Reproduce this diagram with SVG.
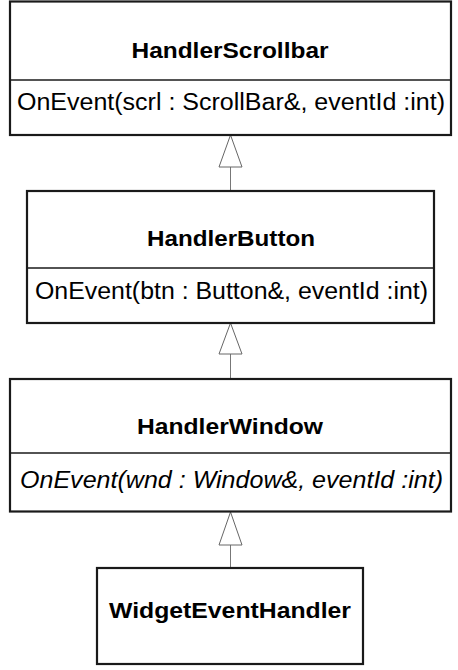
<svg xmlns="http://www.w3.org/2000/svg" width="458" height="670" viewBox="0 0 458 670">
  <defs>
    <style>
      .box { fill: #ffffff; stroke: #1a1a1a; stroke-width: 2.2; }
      .sep { stroke: #1a1a1a; stroke-width: 1.6; }
      .title { font-family: "Liberation Sans", Arial, sans-serif; font-weight: bold; font-size: 22px; fill: #000; text-anchor: middle; }
      .op { font-family: "Liberation Sans", Arial, sans-serif; font-size: 23.5px; fill: #000; }
      .abstract { font-style: italic; }
      .link { stroke: #777; stroke-width: 1; fill: none; }
      .head { stroke: #666; stroke-width: 1; fill: #fff; }
    </style>
  </defs>
  <rect width="458" height="670" fill="#ffffff"/>

  <!-- generalization connectors -->
  <g id="connectors">
    <line class="link" x1="230.5" y1="167" x2="230.5" y2="191"/>
    <polygon class="head" points="230.5,135 219,167 242,167"/>
    <line class="link" x1="230.5" y1="354" x2="230.5" y2="379"/>
    <polygon class="head" points="230.5,323 219,354 242,354"/>
    <line class="link" x1="230.5" y1="545" x2="230.5" y2="568"/>
    <polygon class="head" points="230.5,512 219,545 242,545"/>
  </g>

  <g id="HandlerScrollbar">
    <rect class="box" x="10" y="1.5" width="441" height="133.5"/>
    <line class="sep" x1="10" y1="80" x2="451" y2="80"/>
    <text class="title" x="230" y="58" textLength="197" lengthAdjust="spacingAndGlyphs">HandlerScrollbar</text>
    <text class="op" x="17" y="110" textLength="428" lengthAdjust="spacingAndGlyphs">OnEvent(scrl : ScrollBar&amp;, eventId :int)</text>
  </g>

  <g id="HandlerButton">
    <rect class="box" x="27" y="191" width="407" height="132"/>
    <line class="sep" x1="27" y1="268" x2="434" y2="268"/>
    <text class="title" x="231" y="246" textLength="168" lengthAdjust="spacingAndGlyphs">HandlerButton</text>
    <text class="op" x="35" y="299" textLength="393" lengthAdjust="spacingAndGlyphs">OnEvent(btn : Button&amp;, eventId :int)</text>
  </g>

  <g id="HandlerWindow">
    <rect class="box" x="10" y="379" width="441" height="132.5"/>
    <line class="sep" x1="10" y1="453" x2="451" y2="453"/>
    <text class="title" x="230" y="434" textLength="186" lengthAdjust="spacingAndGlyphs">HandlerWindow</text>
    <text class="op abstract" x="20" y="488" textLength="423" lengthAdjust="spacingAndGlyphs">OnEvent(wnd : Window&amp;, eventId :int)</text>
  </g>

  <g id="WidgetEventHandler">
    <rect class="box" x="97" y="568" width="266" height="96"/>
    <text class="title" x="230" y="618" textLength="242" lengthAdjust="spacingAndGlyphs">WidgetEventHandler</text>
  </g>
</svg>
